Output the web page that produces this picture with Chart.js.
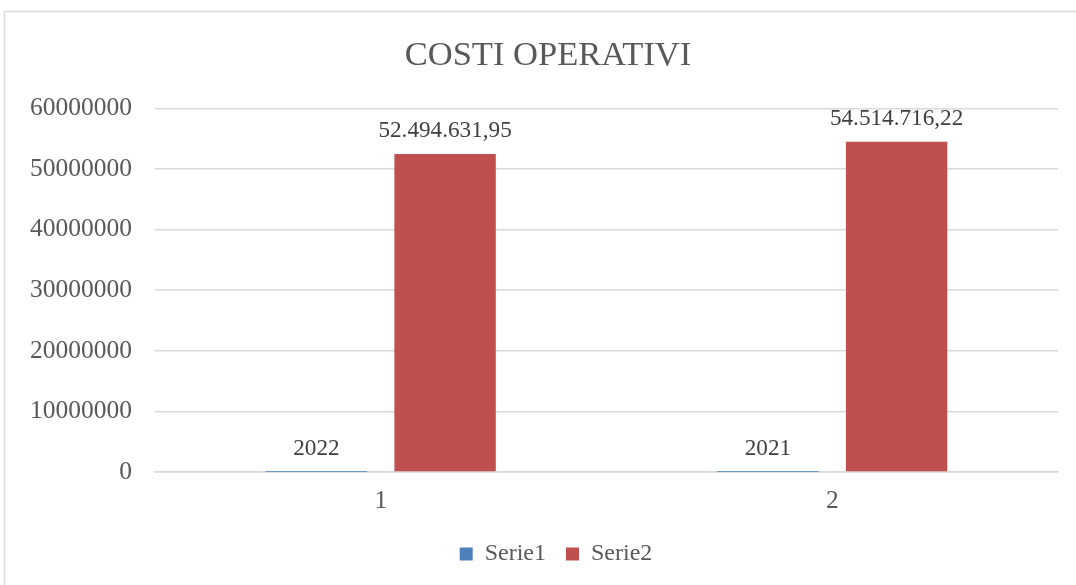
<!DOCTYPE html>
<html>
<head>
<meta charset="utf-8">
<script src="https://cdn.jsdelivr.net/npm/chart.js@4"></script>
<style>
html,body{margin:0;padding:0;background:#fff;}
#wrap{position:relative;width:1076px;height:585px;overflow:hidden;}
</style>
</head>
<body>
<div id="wrap"><canvas id="c" width="1076" height="585"></canvas></div>
<script>
const categories = ["1", "2"];
const serie1 = [2022, 2021];
const serie2 = [52494631.95, 54514716.22];
const seriesNames = ["Serie1", "Serie2"];
const yTicks = [0, 10000000, 20000000, 30000000, 40000000, 50000000, 60000000];
const chartTitle = "COSTI OPERATIVI";

const FONT = "'Liberation Serif', 'DejaVu Serif', serif";

function fmtIt(v) {
  if (Number.isInteger(v)) return String(v);
  const parts = v.toFixed(2).split(".");
  const intPart = parts[0].replace(/\B(?=(\d{3})+(?!\d))/g, ".");
  return intPart + "," + parts[1];
}

const borderPlugin = {
  id: "borderBox",
  beforeDraw(chart) {
    const ctx = chart.ctx;
    ctx.save();
    ctx.strokeStyle = "#d9d9d9";
    ctx.lineWidth = 1.5;
    ctx.strokeRect(4.5, 11.5, 1200, 700);
    ctx.restore();
  }
};

const shiftPlugin = {
  id: "shiftBlocks",
  afterLayout(chart) {
    if (chart.legend) { chart.legend.left += 27; chart.legend.right += 27; }
    if (chart.titleBlock) { chart.titleBlock.left += 19; chart.titleBlock.right += 19; }
  }
};

const labelPlugin = {
  id: "valueLabels",
  afterDatasetsDraw(chart) {
    const ctx = chart.ctx;
    ctx.save();
    ctx.font = "23.2px " + FONT;
    ctx.fillStyle = "#404040";
    ctx.textAlign = "center";
    ctx.textBaseline = "alphabetic";
    chart.data.datasets.forEach((ds, i) => {
      const meta = chart.getDatasetMeta(i);
      meta.data.forEach((el, j) => {
        ctx.fillText(fmtIt(ds.data[j]), el.x, el.y - 17);
      });
    });
    ctx.restore();
  }
};

new Chart(document.getElementById("c"), {
  type: "bar",
  data: {
    labels: categories,
    datasets: [
      { label: seriesNames[0], data: serie1, backgroundColor: "#4f81bd", categoryPercentage: 0.57, barPercentage: 0.788 },
      { label: seriesNames[1], data: serie2, backgroundColor: "#c0504d", categoryPercentage: 0.57, barPercentage: 0.788 }
    ]
  },
  options: {
    responsive: false,
    animation: false,
    layout: { padding: { left: 0, right: 18, top: 11, bottom: 9 } },
    plugins: {
      title: {
        display: true,
        text: chartTitle,
        color: "#595959",
        font: { family: FONT, size: 34.5, weight: "normal" },
        padding: { top: 24, bottom: 32 }
      },
      legend: {
        position: "bottom",
        labels: {
          color: "#595959",
          font: { family: FONT, size: 24 },
          boxWidth: 13,
          boxHeight: 13,
          padding: 20
        }
      },
      tooltip: { enabled: false }
    },
    scales: {
      x: {
        grid: { display: false, drawTicks: false },
        border: { color: "#d9d9d9", width: 1.5 },
        ticks: { color: "#595959", font: { family: FONT, size: 25.5 }, padding: 14 },
        afterFit(s) { s.height = 50; }
      },
      y: {
        min: 0,
        max: 60000000,
        afterBuildTicks(s) { s.ticks = yTicks.map(v => ({ value: v })); },
        grid: { color: "#d9d9d9", lineWidth: 1.5, drawTicks: false },
        border: { display: false },
        ticks: {
          color: "#595959",
          font: { family: FONT, size: 25.5 },
          padding: 23,
          callback: v => String(v)
        },
        afterFit(s) { s.width = 155; }
      }
    }
  },
  plugins: [borderPlugin, shiftPlugin, labelPlugin]
});
</script>
</body>
</html>
